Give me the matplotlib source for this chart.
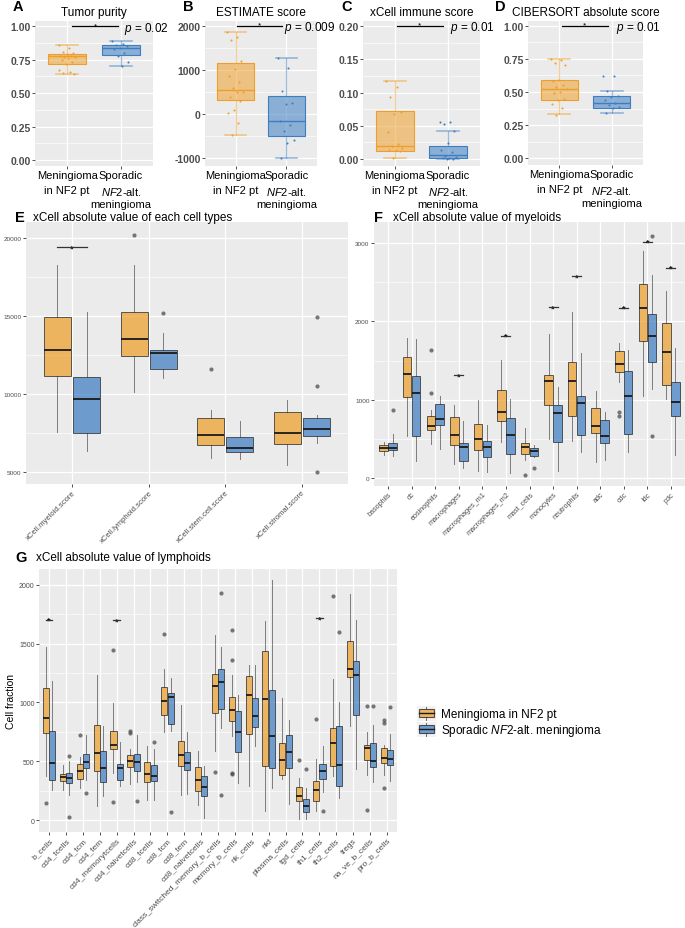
import numpy as np
import matplotlib
matplotlib.use('Agg')
import matplotlib.pyplot as plt
from matplotlib.colors import to_rgba
from matplotlib.ticker import FixedLocator
from matplotlib.patches import Rectangle, Patch
from matplotlib.lines import Line2D
from matplotlib.legend_handler import HandlerBase

plt.rcParams['font.family'] = ['Liberation Sans', 'DejaVu Sans']
plt.rcParams['mathtext.fontset'] = 'custom'
plt.rcParams['mathtext.rm'] = 'Liberation Sans'
plt.rcParams['mathtext.it'] = 'Liberation Sans:italic'
plt.rcParams['mathtext.bf'] = 'Liberation Sans:bold'

ORANGE = '#EE9F2B'
BLUE = '#3D7DC2'

# ---------------- data ----------------
group_labels = ['Meningioma in NF2 pt', 'Sporadic $\\mathit{NF2}$-alt. meningioma']
group_ticklines = [['Meningioma', 'in NF2 pt'], ['Sporadic', '$\\mathit{NF2}$-alt.', 'meningioma']]

# box stats: (whisker low, q1, median, q3, whisker high)
A_nf2 = (0.64, 0.715, 0.775, 0.795, 0.86)
A_spor = (0.70, 0.785, 0.835, 0.86, 0.89)
A_nf2_pts = [0.86, 0.84, 0.81, 0.80, 0.79, 0.78, 0.78, 0.77, 0.77, 0.76, 0.75, 0.73, 0.72, 0.67, 0.66, 0.65, 0.64]
A_spor_pts = [0.89, 0.87, 0.86, 0.85, 0.84, 0.83, 0.80, 0.78, 0.73, 0.70]

B_nf2 = (-480, 320, 550, 1150, 1860)
B_spor = (-1000, -500, -150, 400, 1280)
B_nf2_pts = [1860, 1740, 1680, 1200, 1030, 870, 720, 580, 510, 490, 380, 300, 80, 30, -200, -480]
B_spor_pts = [1280, 1050, 530, 260, 220, -150, -250, -380, -580, -660, -990]

C_nf2 = (0.001, 0.012, 0.019, 0.072, 0.118)
C_spor = (0.0, 0.002, 0.006, 0.019, 0.042)
C_nf2_pts = [0.118, 0.109, 0.093, 0.071, 0.067, 0.040, 0.023, 0.019, 0.016, 0.014, 0.013, 0.012, 0.001]
C_spor_pts = [0.055, 0.055, 0.052, 0.042, 0.024, 0.013, 0.011, 0.005, 0.003, 0.002, 0.001, 0.0, 0.0]

D_nf2 = (0.333, 0.443, 0.521, 0.592, 0.745)
D_spor = (0.343, 0.38, 0.42, 0.468, 0.511)
D_nf2_pts = [0.75, 0.74, 0.72, 0.70, 0.59, 0.58, 0.55, 0.54, 0.52, 0.50, 0.49, 0.45, 0.44, 0.41, 0.38, 0.33]
D_spor_pts = [0.62, 0.62, 0.51, 0.47, 0.46, 0.44, 0.42, 0.40, 0.39, 0.38, 0.34]

upper_titles = ['Tumor purity', 'ESTIMATE score', 'xCell immune score', 'CIBERSORT absolute score']
upper_pvals = ['0.02', '0.009', '0.01', '0.01']
upper_sig_y = [1.00, 2000, 0.20, 1.00]

E_categories = ['xCell.myeloid.score', 'xCell.lymphoid.score', 'xCell.stem.cell.score', 'xCell.stromal.score']
E_nf2 = [(7560, 11140, 12830, 14960, 18270), (10160, 12420, 13510, 15280, 18270),
         (5870, 6700, 7370, 8480, 8970), (5420, 6790, 7490, 8840, 9610)]
E_spor = [(6340, 7490, 9650, 11060, 15280), (11040, 11590, 12600, 12810, 13900),
          (5850, 6280, 6530, 7220, 8260), (6850, 7300, 7730, 8480, 8650)]
E_nf2_out = [[], [20190], [11590], []]
E_spor_out = [[], [15180], [], [14960, 10520, 5000]]
E_sig = [19400, None, None, None]

F_categories = ['basophils', 'dc', 'eosinophils', 'macrophages', 'macrophages_m1', 'macrophages_m2',
                'mast_cells', 'monocytes', 'neutrophils', 'adc', 'cdc', 'ldc', 'pdc']
F_nf2 = [(289, 344, 380, 416, 459), (531, 1028, 1334, 1551, 1789), (438, 616, 659, 790, 871),
         (174, 416, 544, 778, 935), (85, 353, 501, 684, 999), (455, 727, 837, 1122, 1509),
         (234, 306, 395, 446, 637), (501, 926, 1232, 1313, 1832), (476, 786, 1237, 1479, 2116),
         (204, 578, 663, 892, 1105), (1228, 1347, 1453, 1615, 1725), (1045, 1755, 2176, 2482, 2898),
         (1011, 1190, 1606, 1976, 2388)]
F_spor = [(285, 361, 385, 446, 561), (212, 535, 1088, 1296, 1776), (365, 671, 752, 943, 1041),
          (127, 212, 391, 446, 722), (76, 272, 391, 476, 680), (68, 306, 544, 765, 1011),
          (263, 280, 348, 382, 416), (85, 459, 824, 935, 1164), (331, 544, 952, 1045, 1594),
          (229, 446, 540, 744, 837), (331, 565, 1041, 1360, 1636), (1130, 1487, 1810, 2099, 2597),
          (297, 790, 973, 1228, 1662)]
F_nf2_out = [[], [], [1632, 1079], [], [], [], [42], [], [], [], [841, 790], [], []]
F_spor_out = [[863], [], [], [], [], [], [127], [], [], [], [], [531, 3094], []]
F_sig = [None, None, None, 1313, None, 1815, None, 2184, 2575, None, 2176, 3017, 2686]

G_categories = ['b_cells', 'cd4_tcells', 'cd4_tcm', 'cd4_tem', 'cd4_memorytcells', 'cd4_naivetcells',
                'cd8_tcells', 'cd8_tcm', 'cd8_tem', 'cd8_naivetcells', 'class_switched_memory_b_cells',
                'memory_b_cells', 'nk_cells', 'nkt', 'plasma_cells', 'tgd_cells', 'th1_cells',
                'th2_cells', 'tregs', 'na_ve_b_cells', 'pro_b_cells']
G_nf2 = [(372, 741, 866, 1122, 1471), (258, 335, 364, 392, 465), (273, 349, 420, 477, 535),
         (122, 415, 568, 812, 1230), (400, 605, 642, 761, 994), (307, 449, 500, 554, 605),
         (170, 327, 392, 491, 628), (752, 897, 1011, 1130, 1286), (216, 457, 551, 676, 980),
         (131, 244, 338, 449, 590), (590, 911, 1138, 1244, 1578), (718, 846, 940, 1045, 1238),
         (287, 733, 1065, 1229, 1320), (74, 457, 1031, 1437, 1692), (349, 386, 511, 653, 1037),
         (9, 159, 202, 284, 355), (80, 159, 258, 329, 520), (378, 457, 653, 781, 1201),
         (803, 1221, 1286, 1522, 1925), (386, 511, 613, 642, 747), (385, 486, 525, 611, 640)]
G_spor = [(258, 341, 486, 758, 1181), (213, 315, 358, 400, 500), (341, 446, 491, 562, 727),
          (207, 321, 446, 591, 804), (293, 341, 440, 475, 665), (321, 420, 497, 562, 727),
          (173, 335, 372, 472, 605), (761, 818, 1045, 1079, 1205), (221, 423, 485, 576, 750),
          (14, 202, 278, 372, 457), (781, 945, 1178, 1286, 1476), (315, 576, 747, 926, 1068),
          (633, 789, 889, 1037, 1320), (273, 440, 718, 1110, 2039), (136, 440, 582, 727, 852),
          (9, 65, 117, 179, 270), (236, 349, 415, 474, 633), (185, 292, 468, 803, 1002),
          (434, 897, 1238, 1357, 1704), (321, 449, 505, 653, 812), (330, 471, 520, 596, 733)]
G_nf2_out = [[142], [], [727], [], [1449, 150], [761, 740], [], [1580], [], [], [406],
             [1619, 1358, 400, 392], [], [], [], [511], [860], [1903], [], [974, 85], [847, 827, 270]]
G_spor_out = [[], [548, 28], [227], [], [], [165], [668], [71], [], [], [1932, 216], [], [], [], [],
              [437], [74], [1599], [], [974], [960]]
G_sig = [1706, None, None, None, 1699, None, None, None, None, None, None, None, None, None, None,
         None, 1718, None, None, None, None]

# ---------------- helpers ----------------
W, H = 685, 929
fig = plt.figure(figsize=(W / 100, H / 100), dpi=100)


def px_axes(x0, y0, x1, y1):
    return fig.add_axes([x0 / W, 1 - y1 / H, (x1 - x0) / W, (y1 - y0) / H])


def style(ax, ylim, yticks, yticklabels, minor, ylabsize, bold=False):
    ax.set_facecolor('#EBEBEB')
    for sp in ax.spines.values():
        sp.set_visible(False)
    ax.set_ylim(ylim)
    ax.set_yticks(yticks)
    ax.set_yticklabels(yticklabels, fontsize=ylabsize, color='#4D4D4D',
                       fontweight='bold' if bold else 'normal')
    ax.yaxis.set_minor_locator(FixedLocator(minor))
    ax.grid(which='major', color='white', linewidth=0.9)
    ax.grid(which='minor', axis='y', color='white', linewidth=0.45)
    ax.set_axisbelow(True)
    ax.tick_params(which='major', length=2, width=0.6, color='#333333', pad=1.2)
    ax.tick_params(which='minor', length=0)


def stat_dict(s, fl=()):
    return dict(whislo=s[0], q1=s[1], med=s[2], q3=s[3], whishi=s[4], fliers=list(fl))


def upper_panel(ax, nf2, spor, nf2_pts, spor_pts, ylim, yticks, yticklabels, minor, title, pval,
                sig_y, line_x, text_x):
    style(ax, ylim, yticks, yticklabels, minor, 7.5, bold=True)
    ax.set_xlim(0.4, 2.6)
    for pos, st, pts, col in [(1, nf2, nf2_pts, ORANGE), (2, spor, spor_pts, BLUE)]:
        ax.bxp([stat_dict(st)], positions=[pos], widths=0.72, patch_artist=True, showfliers=False,
               manage_ticks=False, capwidths=0.42,
               boxprops=dict(facecolor=to_rgba(col, 0.55), edgecolor=col, linewidth=0.8),
               medianprops=dict(color=col, linewidth=1.0),
               whiskerprops=dict(color=to_rgba(col, 0.5), linewidth=0.9),
               capprops=dict(color=to_rgba(col, 0.5), linewidth=1.2))
        n = len(pts)
        offs = (((np.arange(n) * 0.61803) % 1.0) - 0.5) * 0.32
        ax.scatter(pos + offs, pts, s=2.2, color=col, linewidths=0, zorder=4)
    ax.set_xticks([1, 2])
    ax.set_xticklabels([g[0] for g in group_ticklines], fontsize=8, color='black')
    for pos, lines in zip([1, 2], group_ticklines):
        for k, ln in enumerate(lines[1:], start=1):
            ax.annotate(ln, xy=(pos, 0), xycoords=('data', 'axes fraction'),
                        xytext=(0, -3.2 - 10.3 * k), textcoords='offset points',
                        ha='center', va='top', fontsize=8, annotation_clip=False)
    ax.set_title(title, fontsize=8.5, pad=4.5)
    ax.plot(line_x, [sig_y, sig_y], color='black', linewidth=0.9, clip_on=False, zorder=5)
    ax.annotate('*', (sum(line_x) / 2, sig_y), xytext=(0, -0.5), textcoords='offset points',
                ha='center', va='baseline', fontsize=6, annotation_clip=False)
    ax.annotate('$p$ = ' + pval, (text_x, sig_y), xytext=(0, -3.0), textcoords='offset points',
                ha='left', va='baseline', fontsize=8.5, annotation_clip=False)


def dodged_panel(ax, cats, nf2, spor, nf2_out, spor_out, sig, width, off, xlabsize):
    ax.set_xlim(0.4, len(cats) + 0.6)
    for grp, out, col, sign in [(nf2, nf2_out, ORANGE, -1), (spor, spor_out, BLUE, 1)]:
        stats = [stat_dict(s, o) for s, o in zip(grp, out)]
        pos = np.arange(1, len(cats) + 1) + sign * off
        ax.bxp(stats, positions=pos, widths=width, patch_artist=True, showcaps=False, manage_ticks=False,
               boxprops=dict(facecolor=to_rgba(col, 0.72), edgecolor=(0.2, 0.2, 0.2, 0.8), linewidth=0.7),
               medianprops=dict(color='#1A1A1A', linewidth=1.3, solid_capstyle='butt'),
               whiskerprops=dict(color=(0.2, 0.2, 0.2, 0.6), linewidth=0.7),
               flierprops=dict(marker='o', markerfacecolor=(0.3, 0.3, 0.3, 0.75),
                               markeredgecolor='none', markersize=3))
    for i, s in enumerate(sig):
        if s is None:
            continue
        ax.plot([i + 1 - off, i + 1 + off], [s, s], color='#333333', linewidth=0.9, zorder=5)
        ax.annotate('*', (i + 1, s), xytext=(0, -2.3), textcoords='offset points',
                    ha='center', va='baseline', fontsize=6.5, fontweight='bold')
    ax.set_xticks(np.arange(1, len(cats) + 1))
    ax.set_xticklabels(cats, rotation=45, ha='right', va='top', rotation_mode='anchor',
                       fontsize=xlabsize, color='#4D4D4D')


# ---------------- panels A-D ----------------
axA = px_axes(35, 22, 153, 167)
upper_panel(axA, A_nf2, A_spor, A_nf2_pts, A_spor_pts, (-0.045, 1.04),
            [0, 0.25, 0.5, 0.75, 1.0], ['0.00', '0.25', '0.50', '0.75', '1.00'],
            [0.125, 0.375, 0.625, 0.875], upper_titles[0], upper_pvals[0], upper_sig_y[0],
            [1.09, 1.95], 2.06)

axB = px_axes(205, 22, 317, 167)
upper_panel(axB, B_nf2, B_spor, B_nf2_pts, B_spor_pts, (-1182, 2114),
            [-1000, 0, 1000, 2000], ['-1000', '0', '1000', '2000'],
            [-500, 500, 1500], upper_titles[1], upper_pvals[1], upper_sig_y[1],
            [1.03, 1.91], 1.95)

axC = px_axes(363, 22, 480, 167)
upper_panel(axC, C_nf2, C_spor, C_nf2_pts, C_spor_pts, (-0.0105, 0.2075),
            [0, 0.05, 0.10, 0.15, 0.20], ['0.00', '0.05', '0.10', '0.15', '0.20'],
            [0.025, 0.075, 0.125, 0.175], upper_titles[2], upper_pvals[2], upper_sig_y[2],
            [1.04, 1.90], 2.04)

axD = px_axes(528, 22, 643, 166)
upper_panel(axD, D_nf2, D_spor, D_nf2_pts, D_spor_pts, (-0.05, 1.035),
            [0, 0.25, 0.5, 0.75, 1.0], ['0.00', '0.25', '0.50', '0.75', '1.00'],
            [0.125, 0.375, 0.625, 0.875], upper_titles[3], upper_pvals[3], upper_sig_y[3],
            [1.05, 1.93], 2.08)

# ---------------- panel E ----------------
axE = px_axes(26, 223, 348, 485)
style(axE, (4231, 21026), [5000, 10000, 15000, 20000], ['5000', '10000', '15000', '20000'],
      [7500, 12500, 17500], 4.6)
dodged_panel(axE, E_categories, E_nf2, E_spor, E_nf2_out, E_spor_out, E_sig, 0.35, 0.19, 5.5)

# ---------------- panel F ----------------
axF = px_axes(374, 223, 685, 487)
style(axF, (-102, 3268), [0, 1000, 2000, 3000], ['0', '1000', '2000', '3000'],
      [500, 1500, 2500], 4.6)
dodged_panel(axF, F_categories, F_nf2, F_spor, F_nf2_out, F_spor_out, F_sig, 0.36, 0.19, 5.2)

# ---------------- panel G ----------------
axG = px_axes(39, 570, 397, 833)
style(axG, (-102, 2136), [0, 500, 1000, 1500, 2000], ['0', '500', '1000', '1500', '2000'],
      [250, 750, 1250, 1750], 5.0)
dodged_panel(axG, G_categories, G_nf2, G_spor, G_nf2_out, G_spor_out, G_sig, 0.36, 0.19, 6.0)
axG.set_ylabel('Cell fraction', fontsize=7.5, labelpad=2)

# ---------------- titles and panel letters ----------------
for letter, x, y in [('A', 13, 7), ('B', 183, 7), ('C', 341, 7), ('D', 495, 7),
                     ('E', 15, 218), ('F', 374, 218), ('G', 15, 558)]:
    fig.text(x / W, 1 - y / H, letter, fontsize=10.5, fontweight='bold', ha='left', va='center')
for txt, x, y in [('xCell absolute value of each cell types', 33, 218),
                  ('xCell absolute value of myeloids', 393, 218),
                  ('xCell absolute value of lymphoids', 36, 558)]:
    fig.text(x / W, 1 - y / H, txt, fontsize=8.5, ha='left', va='center')


# ---------------- legend ----------------
class BoxHandler(HandlerBase):
    def create_artists(self, legend, orig_handle, xdescent, ydescent, width, height, fontsize, trans):
        x0, y0 = -xdescent, -ydescent
        fc = orig_handle.get_facecolor()
        bg = Rectangle((x0, y0), width, height, facecolor='#F2F2F2', edgecolor='none', transform=trans)
        bx = Rectangle((x0 + width * 0.12, y0 + height * 0.22), width * 0.76, height * 0.56,
                       facecolor=fc, edgecolor=(0.2, 0.2, 0.2, 0.85), linewidth=0.8, transform=trans)
        med = Line2D([x0 + width * 0.12, x0 + width * 0.88], [y0 + height * 0.5] * 2,
                     color='#1A1A1A', linewidth=1.0, transform=trans)
        w1 = Line2D([x0 + width / 2] * 2, [y0 + height * 0.05, y0 + height * 0.22],
                    color=(0.2, 0.2, 0.2, 0.7), linewidth=0.7, transform=trans)
        w2 = Line2D([x0 + width / 2] * 2, [y0 + height * 0.78, y0 + height * 0.95],
                    color=(0.2, 0.2, 0.2, 0.7), linewidth=0.7, transform=trans)
        return [bg, bx, med, w1, w2]


handles = [Patch(facecolor=to_rgba(ORANGE, 0.72)), Patch(facecolor=to_rgba(BLUE, 0.72))]
fig.legend(handles, group_labels, loc='center left', bbox_to_anchor=(417 / W, 1 - 723 / H),
           frameon=False, fontsize=8.5, handlelength=1.6, handleheight=1.55, handletextpad=0.45,
           labelspacing=0.12, borderpad=0, borderaxespad=0, handler_map={Patch: BoxHandler()})

fig.savefig('out.png', dpi=100)
